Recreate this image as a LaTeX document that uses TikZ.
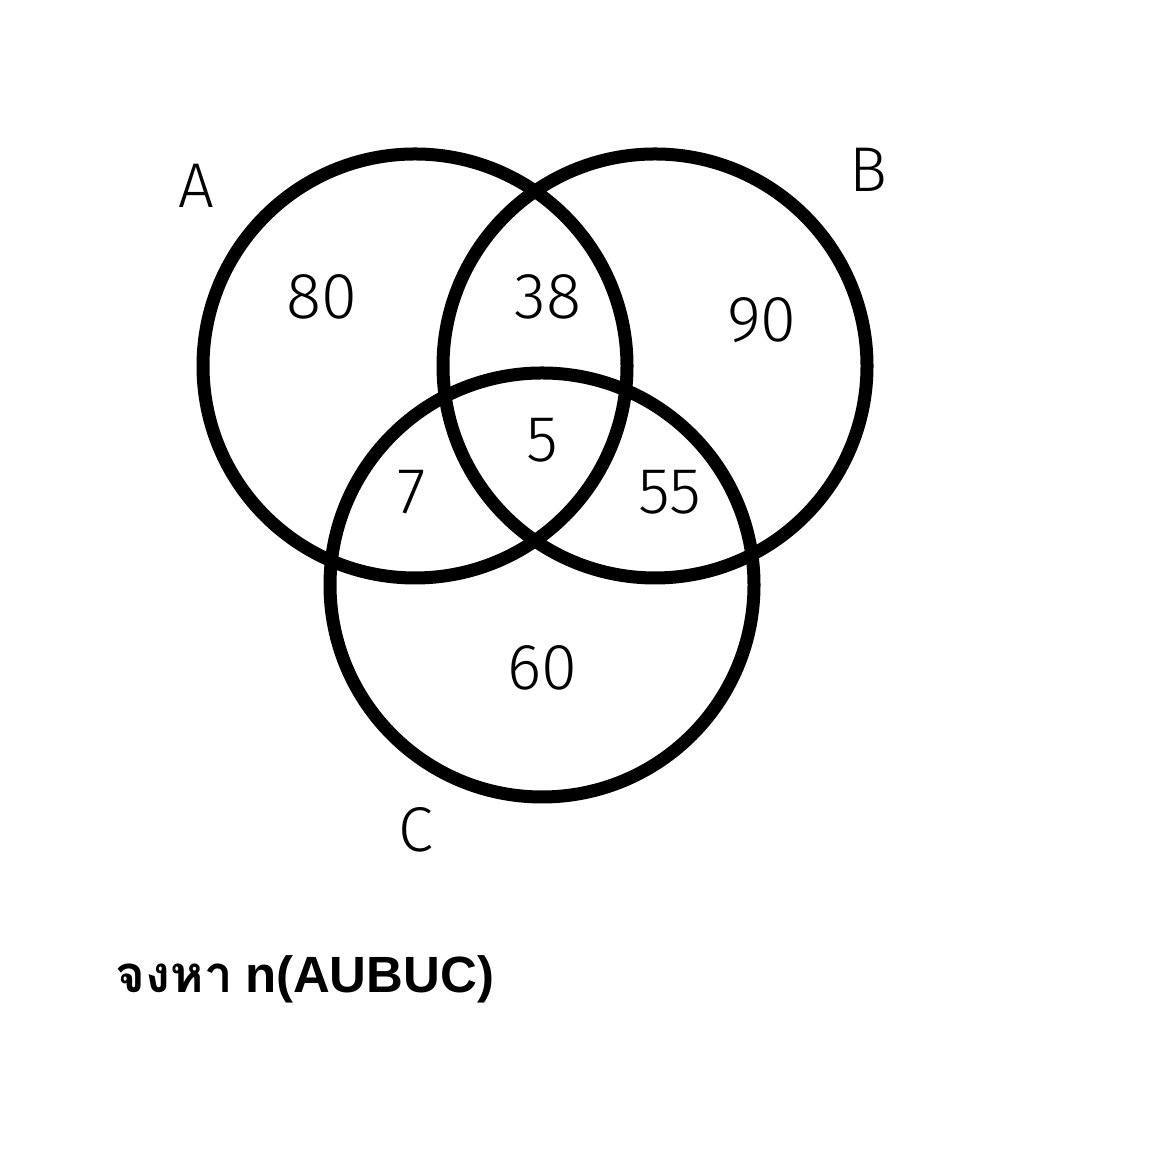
\documentclass[tikz,border=0pt]{standalone}
\usepackage{fontspec}
\setmainfont{Fira Sans Light}
\newfontfamily\thaifont[Script=Thai]{Loma}
\newfontfamily\boldsans{Liberation Sans}
\usetikzlibrary{positioning}

\begin{document}
\begin{tikzpicture}[
  setcircle/.style={draw, circle, line width=3.7pt, minimum size=4.24cm, inner sep=0pt},
  setname/.style={font=\fontsize{18}{20}\selectfont},
  count/.style={font=\fontsize{18.5}{20}\selectfont}
]
\useasboundingbox (0,0) rectangle (11.7,11.7);

% the three sets
\node[setcircle] (setA) at (4.15,8.04) {};
\node[setcircle] (setB) at (6.55,8.04) {};
\node[setcircle] (setC) at (5.42,5.85) {};

\node[setname] (nameA) at (1.96,9.84) {A};
\node[setname] (nameB) at (8.68,10.00) {B};
\node[setname] (nameC) at (4.16,3.40) {C};

% region counts
\node[count] (onlyA) at (3.22,8.73) {80};
\node[count] (AB) at (5.48,8.73) {38};
\node[count] (onlyB) at (7.62,8.50) {90};
\node[count] (ABC) at (5.42,7.30) {5};
\node[count] (AC) at (4.12,6.78) {7};
\node[count] (BC) at (6.70,6.78) {55};
\node[count] (onlyC) at (5.42,5.02) {60};

\node[anchor=base west, inner sep=0pt, font=\fontsize{14.5}{16}\selectfont\bfseries] (task) at (1.15,1.77)
  {{\thaifont จงหา} {\boldsans n(AUBUC)}};
\end{tikzpicture}
\end{document}
